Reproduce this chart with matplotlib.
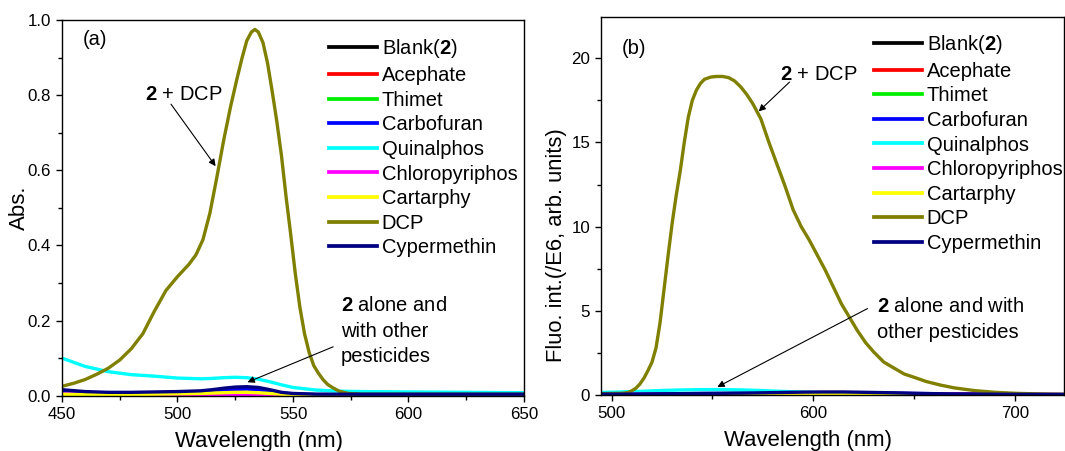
import matplotlib
matplotlib.use('Agg')
import matplotlib.pyplot as plt
from matplotlib.ticker import MultipleLocator

plt.rcParams['font.family'] = ['Liberation Sans', 'DejaVu Sans']
plt.rcParams['mathtext.fontset'] = 'custom'
plt.rcParams['mathtext.rm'] = 'Liberation Sans'
plt.rcParams['mathtext.bf'] = 'Liberation Sans:bold'

labels = ['Blank($\\mathbf{2}$)', 'Acephate', 'Thimet', 'Carbofuran', 'Quinalphos',
          'Chloropyriphos', 'Cartarphy', 'DCP', 'Cypermethin']
colors = ['#000000', '#ff0000', '#00ee00', '#0000ff', '#00ffff',
          '#ff00ff', '#ffff00', '#808000', '#000080']

# (a) absorption
wl_a = [450, 460, 470, 480, 490, 500, 510, 515, 520, 525, 530, 535, 540, 545, 550,
        560, 570, 580, 600, 625, 650]
abs_blank = [0.012, 0.008, 0.007, 0.007, 0.008, 0.009, 0.011, 0.013, 0.016, 0.018, 0.019,
             0.017, 0.012, 0.007, 0.004, 0.003, 0.003, 0.003, 0.003, 0.003, 0.003]
abs_acephate = [0.008, 0.005, 0.004, 0.004, 0.004, 0.004, 0.005, 0.005, 0.006, 0.006, 0.006,
                0.005, 0.004, 0.003, 0.003, 0.002, 0.002, 0.002, 0.002, 0.002, 0.002]
abs_thimet = [0.002, 0.001, 0.001, 0.001, 0.001, 0.001, 0.001, 0.001, 0.001, 0.001, 0.001,
              0.001, 0.001, 0.001, 0.001, 0.001, 0.001, 0.001, 0.001, 0.001, 0.001]
abs_carbofuran = [0.011, 0.008, 0.007, 0.007, 0.008, 0.009, 0.010, 0.012, 0.015, 0.017, 0.018,
                  0.016, 0.011, 0.006, 0.004, 0.003, 0.003, 0.003, 0.003, 0.003, 0.003]
abs_quinalphos = [0.100, 0.078, 0.064, 0.056, 0.052, 0.047, 0.045, 0.046, 0.048, 0.049, 0.048,
                  0.044, 0.037, 0.029, 0.022, 0.015, 0.012, 0.011, 0.010, 0.009, 0.008]
abs_chloro = [0.005, 0.003, 0.002, 0.002, 0.002, 0.002, 0.002, 0.002, 0.002, 0.002, 0.002,
              0.002, 0.002, 0.002, 0.002, 0.002, 0.002, 0.002, 0.002, 0.002, 0.002]
abs_cartarphy = [0.004, 0.003, 0.003, 0.003, 0.004, 0.005, 0.006, 0.007, 0.008, 0.009, 0.009,
                 0.008, 0.006, 0.004, 0.003, 0.002, 0.002, 0.002, 0.002, 0.002, 0.002]
abs_cyper = [0.016, 0.011, 0.009, 0.009, 0.010, 0.011, 0.013, 0.016, 0.020, 0.023, 0.024,
             0.022, 0.016, 0.009, 0.006, 0.004, 0.004, 0.004, 0.004, 0.004, 0.004]
wl_a_dcp = [450, 455, 460, 465, 470, 475, 480, 485, 490, 495, 500, 505, 508, 511, 514, 517,
            520, 523, 526, 528, 530, 532, 533.5, 535, 537, 539, 541, 543, 545, 547, 549,
            551, 553, 555, 557, 559, 561, 563, 565, 567, 570, 574, 580, 600, 625, 650]
abs_dcp = [0.025, 0.033, 0.043, 0.057, 0.073, 0.095, 0.125, 0.165, 0.225, 0.280, 0.317,
           0.350, 0.375, 0.415, 0.485, 0.580, 0.680, 0.770, 0.850, 0.900, 0.945, 0.968,
           0.975, 0.968, 0.940, 0.885, 0.810, 0.730, 0.640, 0.530, 0.430, 0.325, 0.235,
           0.165, 0.115, 0.080, 0.060, 0.043, 0.030, 0.022, 0.012, 0.006, 0.004, 0.004,
           0.004, 0.004]

# (b) fluorescence
wl_b = [495, 505, 515, 525, 535, 545, 555, 565, 575, 585, 595, 605, 615, 625, 635, 650, 670,
        700, 732]
fl_blank = [0.06, 0.06, 0.06, 0.07, 0.07, 0.08, 0.08, 0.09, 0.10, 0.11, 0.12, 0.12, 0.12,
            0.11, 0.10, 0.08, 0.05, 0.03, 0.02]
fl_acephate = [0.05, 0.05, 0.05, 0.06, 0.06, 0.07, 0.07, 0.08, 0.09, 0.10, 0.10, 0.10, 0.10,
               0.09, 0.08, 0.07, 0.05, 0.03, 0.02]
fl_thimet = [0.04, 0.04, 0.04, 0.05, 0.05, 0.06, 0.06, 0.07, 0.07, 0.08, 0.08, 0.08, 0.08,
             0.07, 0.07, 0.06, 0.04, 0.02, 0.02]
fl_carbofuran = [0.07, 0.07, 0.07, 0.08, 0.08, 0.09, 0.09, 0.10, 0.11, 0.12, 0.13, 0.13, 0.13,
                 0.12, 0.11, 0.09, 0.06, 0.03, 0.02]
fl_quinalphos = [0.15, 0.18, 0.22, 0.27, 0.30, 0.32, 0.32, 0.30, 0.26, 0.21, 0.17, 0.14, 0.11,
                 0.09, 0.07, 0.05, 0.03, 0.02, 0.02]
fl_chloro = [0.05, 0.05, 0.05, 0.06, 0.06, 0.07, 0.07, 0.08, 0.08, 0.09, 0.10, 0.10, 0.10,
             0.09, 0.08, 0.07, 0.05, 0.03, 0.02]
fl_cartarphy = [0.02, 0.02, 0.02, 0.03, 0.03, 0.04, 0.04, 0.05, 0.05, 0.06, 0.07, 0.06, 0.05,
                0.04, 0.04, 0.03, 0.02, 0.01, 0.01]
fl_cyper = [0.05, 0.05, 0.06, 0.07, 0.08, 0.09, 0.10, 0.11, 0.13, 0.15, 0.17, 0.18, 0.18,
            0.16, 0.14, 0.10, 0.06, 0.04, 0.03]
wl_b_dcp = [495, 500, 505, 508, 510, 512, 514, 516, 518, 520, 522, 524, 526, 528, 530, 532,
            534, 536, 538, 540, 542, 544, 546, 549, 552, 555, 558, 561, 564, 567, 570, 574,
            578, 582, 586, 590, 594, 598, 602, 606, 610, 614, 618, 622, 626, 630, 635, 640,
            645, 650, 656, 663, 670, 680, 690, 700, 715, 732]
fl_dcp = [0.08, 0.09, 0.10, 0.14, 0.25, 0.40, 0.65, 1.00, 1.45, 1.95, 2.80, 4.30, 6.30, 8.30,
          10.20, 11.85, 13.30, 15.00, 16.50, 17.50, 18.10, 18.50, 18.75, 18.88, 18.92, 18.92,
          18.85, 18.65, 18.30, 17.85, 17.30, 16.40, 15.00, 13.70, 12.40, 11.00, 10.00, 9.20,
          8.30, 7.40, 6.40, 5.40, 4.60, 3.80, 3.10, 2.55, 1.95, 1.60, 1.25, 1.05, 0.80, 0.59,
          0.42, 0.26, 0.16, 0.10, 0.05, 0.03]

fig = plt.figure(figsize=(10.65, 4.51), dpi=100)
ax1 = fig.add_axes([0.0582, 0.1226, 0.4338, 0.833])
ax2 = fig.add_axes([0.5643, 0.1242, 0.4347, 0.8388])

ys_a = [abs_blank, abs_acephate, abs_thimet, abs_carbofuran, abs_quinalphos,
        abs_chloro, abs_cartarphy, abs_dcp, abs_cyper]
ys_b = [fl_blank, fl_acephate, fl_thimet, fl_carbofuran, fl_quinalphos,
        fl_chloro, fl_cartarphy, fl_dcp, fl_cyper]

lw = 2.4
for i in range(9):
    xa = wl_a_dcp if labels[i] == 'DCP' else wl_a
    ax1.plot(xa, ys_a[i], color=colors[i], lw=lw, label=labels[i], solid_joinstyle='round')
    xb = wl_b_dcp if labels[i] == 'DCP' else wl_b
    ax2.plot(xb, ys_b[i], color=colors[i], lw=lw, label=labels[i], solid_joinstyle='round')

ax1.set_xlim(450, 650)
ax1.set_ylim(0, 1.0)
ax1.xaxis.set_major_locator(MultipleLocator(50))
ax1.xaxis.set_minor_locator(MultipleLocator(25))
ax1.yaxis.set_major_locator(MultipleLocator(0.2))
ax1.yaxis.set_minor_locator(MultipleLocator(0.1))
ax1.set_ylabel('Abs.', fontsize=16)
ax1.set_xlabel('Wavelength (nm)', fontsize=15.9)
ax1.yaxis.set_label_coords(-0.069, 0.5)
ax1.xaxis.set_label_coords(0.426, -0.094)
ax1.text(0.045, 0.947, '(a)', transform=ax1.transAxes, fontsize=14.5, va='center')

ax2.set_xlim(494.7, 724.3)
ax2.set_ylim(0, 22.47)
ax2.xaxis.set_major_locator(MultipleLocator(100))
ax2.xaxis.set_minor_locator(MultipleLocator(50))
ax2.yaxis.set_major_locator(MultipleLocator(5))
ax2.yaxis.set_minor_locator(MultipleLocator(2.5))
ax2.set_ylabel('Fluo. int.(/E6, arb. units)', fontsize=15.8)
ax2.set_xlabel('Wavelength (nm)', fontsize=15.9)
ax2.yaxis.set_label_coords(-0.074, 0.397)
ax2.xaxis.set_label_coords(0.447, -0.092)
ax2.text(0.0447, 0.9165, '(b)', transform=ax2.transAxes, fontsize=14.5, va='center')

for ax in (ax1, ax2):
    ax.tick_params(which='major', direction='out', length=4.3, width=1, labelsize=12.2)
    ax.tick_params(which='minor', direction='out', length=2.9, width=1)
    for s in ax.spines.values():
        s.set_linewidth(1)

leg_kw = dict(loc='upper left', frameon=False, fontsize=14.5, handlelength=2.36,
              handletextpad=0.25, labelspacing=0.28, borderpad=0, borderaxespad=0)
leg1 = ax1.legend(bbox_to_anchor=(0.578, 0.954), **leg_kw)
leg2 = ax2.legend(bbox_to_anchor=(0.590, 0.957), **leg_kw)
for leg in (leg1, leg2):
    for h in leg.get_lines():
        h.set_linewidth(2.7)

arr = dict(arrowstyle='-|>', color='black', lw=0.8, mutation_scale=10)
ax1.annotate('', xy=(517.2, 0.605), xytext=(496.5, 0.782), arrowprops=arr)
ax1.text(485.9, 0.803, '$\\mathbf{2}$ + DCP', fontsize=14.5, va='center')
ax1.annotate('', xy=(529.2, 0.033), xytext=(568.5, 0.133), arrowprops=arr)
ax1.text(570.8, 0.172, '$\\mathbf{2}$ alone and\nwith other\npesticides', fontsize=14.5,
         va='center', linespacing=1.45)

ax2.annotate('', xy=(571.9, 16.73), xytext=(589.2, 18.7), arrowprops=arr)
ax2.text(583.4, 19.06, '$\\mathbf{2}$ + DCP', fontsize=14.5, va='center')
ax2.annotate('', xy=(551.2, 0.40), xytext=(628.1, 5.21), arrowprops=arr)
ax2.text(631.4, 4.47, '$\\mathbf{2}$ alone and with\nother pesticides', fontsize=14.5,
         va='center', linespacing=1.45)

fig.savefig('out.png', dpi=100)
